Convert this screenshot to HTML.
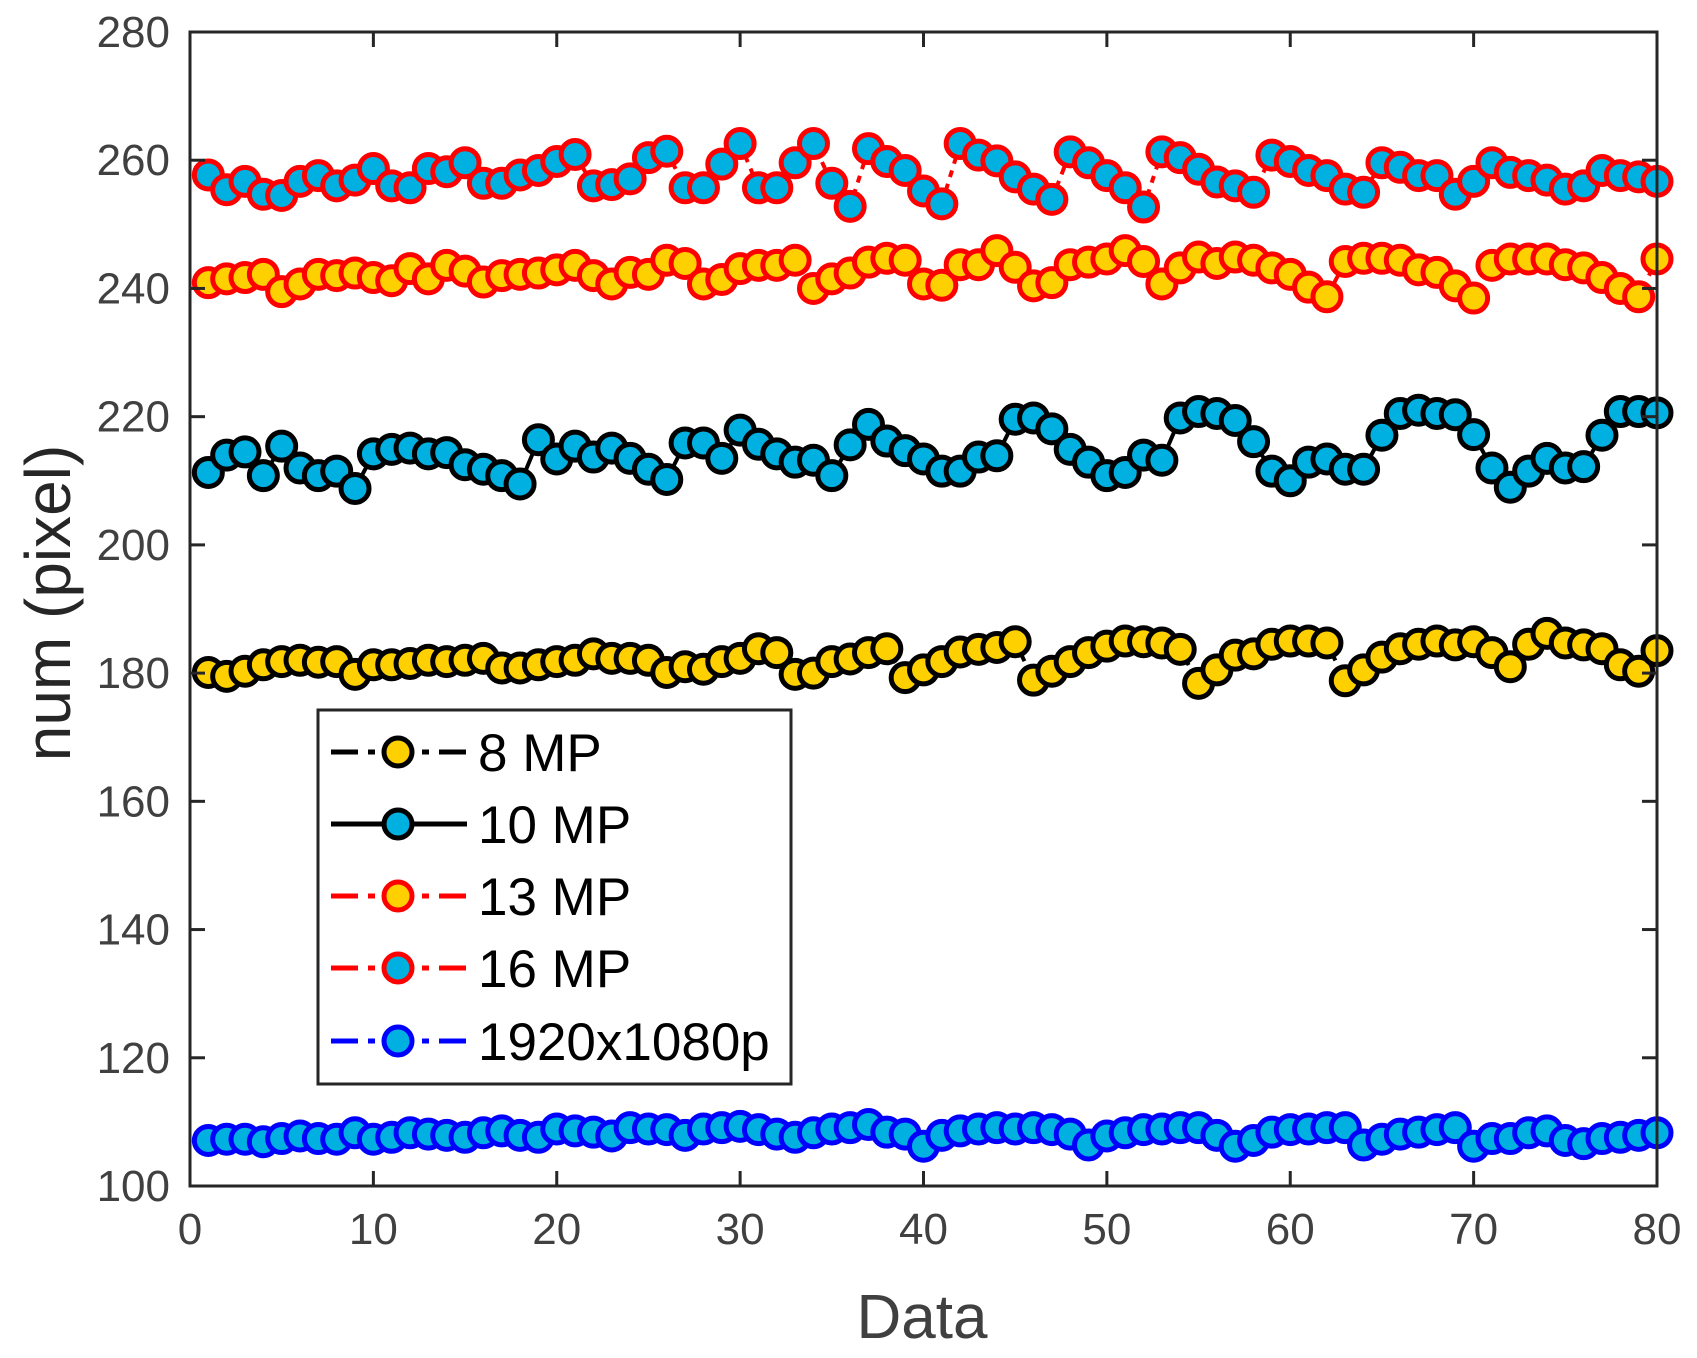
<!DOCTYPE html>
<html><head><meta charset="utf-8"><style>
html,body{margin:0;padding:0;background:#fff;}
svg{display:block;font-family:"Liberation Sans",sans-serif;}
</style></head><body>
<svg id="chart" width="1697" height="1358" viewBox="0 0 1697 1358" xmlns="http://www.w3.org/2000/svg">
<rect x="0" y="0" width="1697" height="1358" fill="#fff"/>
<g id="plot"></g>
<g id="axes"></g>
<text x="0" y="0" transform="translate(70,603) rotate(-90)" text-anchor="middle" font-size="64" fill="#262626">num (pixel)</text>
<text x="922" y="1338" text-anchor="middle" font-size="62" fill="#404040">Data</text>
<g id="legend"></g>
</svg>
<script>
const xTicks=[0,10,20,30,40,50,60,70,80];
const yTicks=[100,120,140,160,180,200,220,240,260,280];
const mp8=[180.1,179.5,180.3,181.3,181.8,182.0,181.7,181.8,179.8,181.3,181.3,181.5,182.0,181.8,182.0,182.3,180.8,180.8,181.3,181.8,182.0,183.0,182.3,182.3,182.0,180.1,181.0,180.6,181.8,182.3,183.8,183.2,179.8,180.0,181.8,182.2,183.2,183.8,179.3,180.5,181.8,183.3,183.7,184.0,184.9,178.9,180.3,181.8,183.2,184.2,185.0,184.9,184.7,183.7,178.4,180.5,182.8,183.0,184.5,185.0,185.0,184.7,178.8,180.5,182.5,183.8,184.5,185.0,184.4,184.9,183.2,181.0,184.5,186.2,184.7,184.4,183.8,181.3,180.3,183.5];
const mp10=[211.3,214.0,214.5,210.8,215.4,212.0,210.8,211.5,208.8,214.2,214.9,215.1,214.2,214.4,212.5,211.8,210.8,209.5,216.4,213.4,215.4,213.7,215.1,213.5,211.8,210.2,215.9,215.9,213.5,217.9,215.7,214.2,212.9,213.2,210.8,215.6,218.8,216.2,214.7,213.4,211.5,211.5,213.7,213.9,219.6,219.8,218.1,214.9,212.9,210.8,211.3,214.0,213.2,219.8,220.8,220.5,219.4,216.1,211.5,210.0,212.9,213.4,211.8,211.8,217.1,220.5,221.0,220.5,220.3,217.2,212.0,209.0,211.5,213.5,212.0,212.2,217.1,220.8,220.8,220.6];
const mp13=[240.9,241.5,241.7,242.2,239.5,240.7,242.2,242.0,242.4,241.7,241.2,243.1,241.5,243.6,242.7,241.0,242.0,242.2,242.4,242.9,243.6,242.0,240.7,242.5,242.2,244.4,243.9,240.7,241.4,243.1,243.6,243.6,244.4,240.0,241.5,242.4,244.1,244.7,244.4,240.7,240.5,243.7,243.7,245.9,243.3,240.4,240.9,243.7,244.1,244.6,245.9,244.2,240.7,243.2,244.9,243.9,244.9,244.4,243.2,242.2,240.2,238.7,244.2,244.7,244.7,244.4,242.9,242.5,240.4,238.5,243.6,244.6,244.6,244.6,243.7,243.2,241.7,240.0,238.7,244.6];
const mp16=[257.7,255.4,256.7,254.7,254.5,256.7,257.6,256.0,256.9,258.7,256.0,255.7,258.7,258.2,259.6,256.4,256.4,257.7,258.4,259.8,260.9,256.0,256.2,257.1,260.4,261.4,255.7,255.7,259.4,262.6,255.7,255.7,259.6,262.6,256.4,252.8,261.8,259.8,258.4,255.2,253.2,262.6,260.8,259.9,257.4,255.5,253.9,261.3,259.6,257.6,255.7,252.7,261.3,260.4,258.6,256.6,256.0,255.0,260.8,259.8,258.4,257.6,255.5,255.0,259.6,258.9,257.6,257.6,254.7,256.7,259.6,258.1,257.6,256.9,255.5,256.0,258.4,257.6,257.4,256.7];
const hd=[107.1,107.3,107.3,106.9,107.4,107.8,107.4,107.3,108.3,107.3,107.6,108.3,108.1,107.9,107.6,108.3,108.6,107.9,107.6,108.9,108.6,108.4,107.8,109.1,108.9,108.8,107.9,108.9,109.1,109.3,108.8,108.1,107.6,108.3,108.9,109.1,109.6,108.4,108.1,106.2,107.9,108.6,108.9,109.1,108.9,109.1,108.8,108.1,106.4,107.8,108.3,108.8,108.9,109.1,109.1,107.9,106.2,107.1,108.4,108.8,108.9,109.1,109.1,106.4,107.3,108.1,108.4,108.8,109.1,106.2,107.4,107.4,108.3,108.6,107.1,106.6,107.4,107.6,107.9,108.3];
const seriesNames=["8 MP","10 MP","13 MP","16 MP","1920x1080p"];

const L=190,R=1657,T=32,B=1186;
const xs=v=>L+(v-0)/(80-0)*(R-L);
const ys=v=>B-(v-100)/(280-100)*(B-T);
const NS="http://www.w3.org/2000/svg";
function mk(tag,attrs,parent){const e=document.createElementNS(NS,tag);for(const k in attrs)e.setAttribute(k,attrs[k]);parent.appendChild(e);return e;}
const YEL="#FFD000",CY="#00B0E0";
const DD="18 7 7 7";
const styles=[
 {line:"#000",dash:DD,face:YEL,edge:"#000",data:mp8,name:"series-8mp"},
 {line:"#000",dash:"",face:CY,edge:"#000",data:mp10,name:"series-10mp"},
 {line:"#ff0000",dash:DD,face:YEL,edge:"#ff0000",data:mp13,name:"series-13mp"},
 {line:"#ff0000",dash:DD,face:CY,edge:"#ff0000",data:mp16,name:"series-16mp"},
 {line:"#0000ff",dash:DD,face:CY,edge:"#0000ff",data:hd,name:"series-1920x1080p"}
];
const plot=document.getElementById('plot');
styles.forEach(s=>{
  const g=mk('g',{},plot);
  
  
  const pts=s.data.map((v,i)=>xs(i+1).toFixed(1)+','+ys(v).toFixed(1)).join(' ');
  const pl=mk('polyline',{points:pts,fill:'none',stroke:s.line,'stroke-width':4,'stroke-dasharray':s.dash},g);
  
  
  s.data.forEach((v,i)=>{
    const c=mk('circle',{cx:xs(i+1),cy:ys(v),r:14,fill:s.face,stroke:s.edge,'stroke-width':5},g);
    
    
  });
});
const axes=document.getElementById('axes');
mk('rect',{x:L,y:T,width:R-L,height:B-T,fill:'none',stroke:'#262626','stroke-width':3},axes);
xTicks.forEach(t=>{
  const x=xs(t);
  mk('line',{x1:x,y1:B,x2:x,y2:B-15,stroke:'#262626','stroke-width':3},axes);
  mk('line',{x1:x,y1:T,x2:x,y2:T+15,stroke:'#262626','stroke-width':3},axes);
  const tx=mk('text',{x:x,y:B+58,'text-anchor':'middle','font-size':44,fill:'#404040'},axes);
  tx.textContent=t;
  
  
});
yTicks.forEach(t=>{
  const y=ys(t);
  mk('line',{x1:L,y1:y,x2:L+15,y2:y,stroke:'#262626','stroke-width':3},axes);
  mk('line',{x1:R,y1:y,x2:R-15,y2:y,stroke:'#262626','stroke-width':3},axes);
  const tx=mk('text',{x:170,y:y+15,'text-anchor':'end','font-size':44,fill:'#404040'},axes);
  tx.textContent=t;
  
  
});
const leg=document.getElementById('legend');
mk('rect',{x:318,y:710,width:473,height:374,fill:'#fff',stroke:'#262626','stroke-width':3},leg);
const rowsY=[752,824,896,968,1041];
styles.forEach((s,i)=>{
  const g=mk('g',{},leg);
  
  
  const y=rowsY[i];
  mk('line',{x1:331,y1:y,x2:467,y2:y,stroke:s.line,'stroke-width':5,'stroke-dasharray':s.dash?"27 10 7 10":""},g);
  mk('circle',{cx:398,cy:y,r:14,fill:s.face,stroke:s.edge,'stroke-width':5},g);
  const tx=mk('text',{x:478,y:y+19,'font-size':53,fill:'#000'},g);
  tx.textContent=seriesNames[i];
});
</script>
</body></html>
